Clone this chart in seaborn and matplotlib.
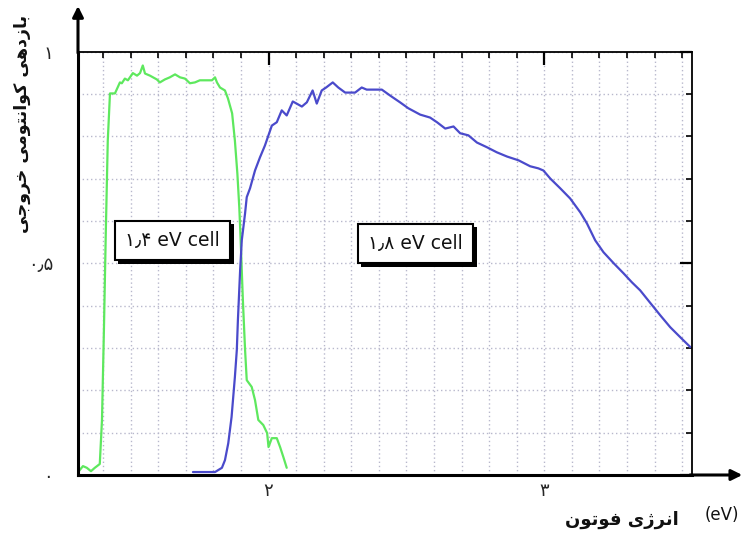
import numpy as np
import pandas as pd
import matplotlib
matplotlib.use("Agg")
import matplotlib.pyplot as plt
import matplotlib.patheffects as pe
from matplotlib.ticker import MultipleLocator, FixedLocator
import seaborn as sns

# ---------------- data ----------------
green_e = [1.312, 1.327, 1.341, 1.356, 1.370, 1.388, 1.396, 1.403, 1.410, 1.417, 1.425,
           1.443, 1.461, 1.468, 1.479, 1.490, 1.508, 1.523, 1.534, 1.544, 1.552, 1.570,
           1.595, 1.606, 1.624, 1.642, 1.661, 1.679, 1.697, 1.715, 1.733, 1.751, 1.777,
           1.795, 1.806, 1.813, 1.824, 1.842, 1.853, 1.868, 1.878, 1.887, 1.894, 1.899,
           1.907, 1.915, 1.921, 1.939, 1.951, 1.963, 1.981, 1.995, 2.000, 2.012, 2.030,
           2.042, 2.054, 2.066]
green_q = [0.009, 0.021, 0.017, 0.009, 0.017, 0.026, 0.130, 0.342, 0.578, 0.790, 0.901,
           0.901, 0.927, 0.925, 0.936, 0.932, 0.949, 0.943, 0.949, 0.967, 0.948, 0.943,
           0.934, 0.927, 0.934, 0.939, 0.946, 0.939, 0.936, 0.925, 0.927, 0.932, 0.932,
           0.932, 0.939, 0.927, 0.915, 0.908, 0.889, 0.854, 0.790, 0.712, 0.632, 0.554,
           0.413, 0.295, 0.224, 0.208, 0.177, 0.130, 0.118, 0.099, 0.066, 0.087, 0.087,
           0.066, 0.042, 0.017]

blue_e = [1.726, 1.806, 1.831, 1.842, 1.854, 1.866, 1.878, 1.885, 1.889, 1.897, 1.903,
          1.915, 1.921, 1.933, 1.951, 1.969, 1.987, 2.012, 2.030, 2.048, 2.066, 2.088,
          2.102, 2.121, 2.139, 2.160, 2.175, 2.193, 2.209, 2.233, 2.253, 2.278, 2.314,
          2.338, 2.356, 2.411, 2.441, 2.477, 2.507, 2.550, 2.586, 2.611, 2.641, 2.671,
          2.695, 2.725, 2.756, 2.792, 2.828, 2.865, 2.907, 2.949, 2.979, 2.997, 3.022,
          3.058, 3.094, 3.131, 3.155, 3.185, 3.215, 3.252, 3.288, 3.318, 3.348, 3.385,
          3.421, 3.457, 3.494, 3.530]
blue_q = [0.007, 0.007, 0.017, 0.035, 0.075, 0.137, 0.231, 0.295, 0.366, 0.483, 0.554,
          0.618, 0.656, 0.677, 0.719, 0.750, 0.778, 0.825, 0.833, 0.861, 0.849, 0.882,
          0.877, 0.870, 0.880, 0.908, 0.877, 0.908, 0.915, 0.927, 0.915, 0.903, 0.903,
          0.915, 0.910, 0.910, 0.896, 0.880, 0.866, 0.851, 0.844, 0.833, 0.818, 0.823,
          0.807, 0.802, 0.785, 0.774, 0.762, 0.752, 0.743, 0.729, 0.724, 0.719, 0.700,
          0.677, 0.653, 0.620, 0.594, 0.554, 0.526, 0.500, 0.476, 0.455, 0.436, 0.406,
          0.377, 0.349, 0.325, 0.302]

series_names = ["۱٫۴ eV cell", "۱٫۸ eV cell"]
series_colors = ["#5ee85e", "#4a4acb"]
label_pos = [(1.652, 0.554), (2.533, 0.547)]

ytick_vals = [0.0, 0.5, 1.0]
ytick_labels = ["۰", "۰٫۵", "۱"]
xtick_vals = [2.0, 3.0]
xtick_labels = ["۲", "۳"]

# Persian text in visual order with presentation forms (no shaping in matplotlib)
xlabel_fa = "\uFEE5\uFEEE\uFE97\uFEEE\uFED3 \uFEEF\uFB8A\uFEAE\uFEE7\uFE8D"  # انرژی فوتون
ylabel_fa = ("\uFEF0\uFE9F\uFEED\uFEAE\uFEA7 "
             "\uFEF0\uFEE3\uFEEE\uFE98\uFEE7\uFE8D\uFEEE\uFEDB "
             "\uFEF0\uFEEB\uFEA9\uFEAF\uFE8E\uFE91")  # بازدهی کوانتومی خروجی

df = pd.concat([
    pd.DataFrame({"e": green_e, "q": green_q, "cell": series_names[0]}),
    pd.DataFrame({"e": blue_e, "q": blue_q, "cell": series_names[1]}),
])

# ---------------- figure ----------------
sns.set_style("white")
plt.rcParams["font.family"] = ["DejaVu Sans"]

fig = plt.figure(figsize=(7.46, 5.33), dpi=100)
ax = fig.add_axes([78 / 746, 58 / 533, (692 - 78) / 746, (475 - 51.5) / 533])

sns.lineplot(data=df, x="e", y="q", hue="cell", palette=series_colors,
             sort=False, estimator=None, linewidth=1.6, legend=False, ax=ax)

ax.set_xlim(1.309, 3.536)
ax.set_ylim(0, 1)

ax.xaxis.set_major_locator(FixedLocator(xtick_vals))
ax.xaxis.set_minor_locator(MultipleLocator(0.1))
ax.yaxis.set_major_locator(FixedLocator(ytick_vals))
ax.yaxis.set_minor_locator(MultipleLocator(0.1))
ax.set_xticklabels(xtick_labels)
ax.set_yticklabels(ytick_labels)

ax.grid(True, which="both", color="#b8b8cc", linestyle=(0, (1, 2)), linewidth=1.0)
ax.set_axisbelow(True)

ax.tick_params(which="major", direction="in", length=9, width=1.6, top=True, right=True,
               color="black", labelsize=13)
ax.tick_params(which="minor", direction="in", length=4, width=1.2, top=True, right=True,
               color="black")
ax.tick_params(axis="y", which="major", pad=18)
ax.tick_params(axis="x", which="major", pad=5)

for side in ["left", "bottom"]:
    ax.spines[side].set_linewidth(2.2)
    ax.spines[side].set_color("black")
for side in ["top", "right"]:
    ax.spines[side].set_linewidth(1.3)
    ax.spines[side].set_color("black")
    ax.spines[side].set_visible(True)

ax.set_xlabel("")
ax.set_ylabel("")

# axis arrows
ax.annotate("", xy=(0.995, 58 / 533), xycoords="figure fraction",
            xytext=(690 / 746, 58 / 533), textcoords="figure fraction",
            arrowprops=dict(arrowstyle="-|>", color="black", lw=2.2, mutation_scale=16,
                            shrinkA=0, shrinkB=0), annotation_clip=False)
ax.annotate("", xy=(78 / 746, 1 - 6 / 533), xycoords="figure fraction",
            xytext=(78 / 746, 1 - 53 / 533), textcoords="figure fraction",
            arrowprops=dict(arrowstyle="-|>", color="black", lw=2.2, mutation_scale=16,
                            shrinkA=0, shrinkB=0), annotation_clip=False)

# labels in boxes with shadow
for name, (lx, ly) in zip(series_names, label_pos):
    t = ax.text(lx, ly, name, ha="center", va="center", fontsize=13.5, color="#111111",
                bbox=dict(boxstyle="square,pad=0.55", facecolor="white",
                          edgecolor="black", linewidth=1.5))
    t.get_bbox_patch().set_path_effects([
        pe.SimplePatchShadow(offset=(2.5, -2.5), shadow_rgbFace="black", alpha=1.0),
        pe.Normal()])

# axis titles
fig.text(622 / 746, 1 - 520 / 533, xlabel_fa, ha="center", va="center",
         fontsize=13, fontweight="bold", color="#111111")
fig.text(722 / 746, 1 - 515 / 533, "(eV)", ha="center", va="center",
         fontsize=12, color="#111111")
fig.text(22 / 746, 1 - 124 / 533, ylabel_fa, ha="center", va="center", rotation=90,
         fontsize=12.5, fontweight="bold", color="#111111")

fig.savefig("out.png", dpi=100)
